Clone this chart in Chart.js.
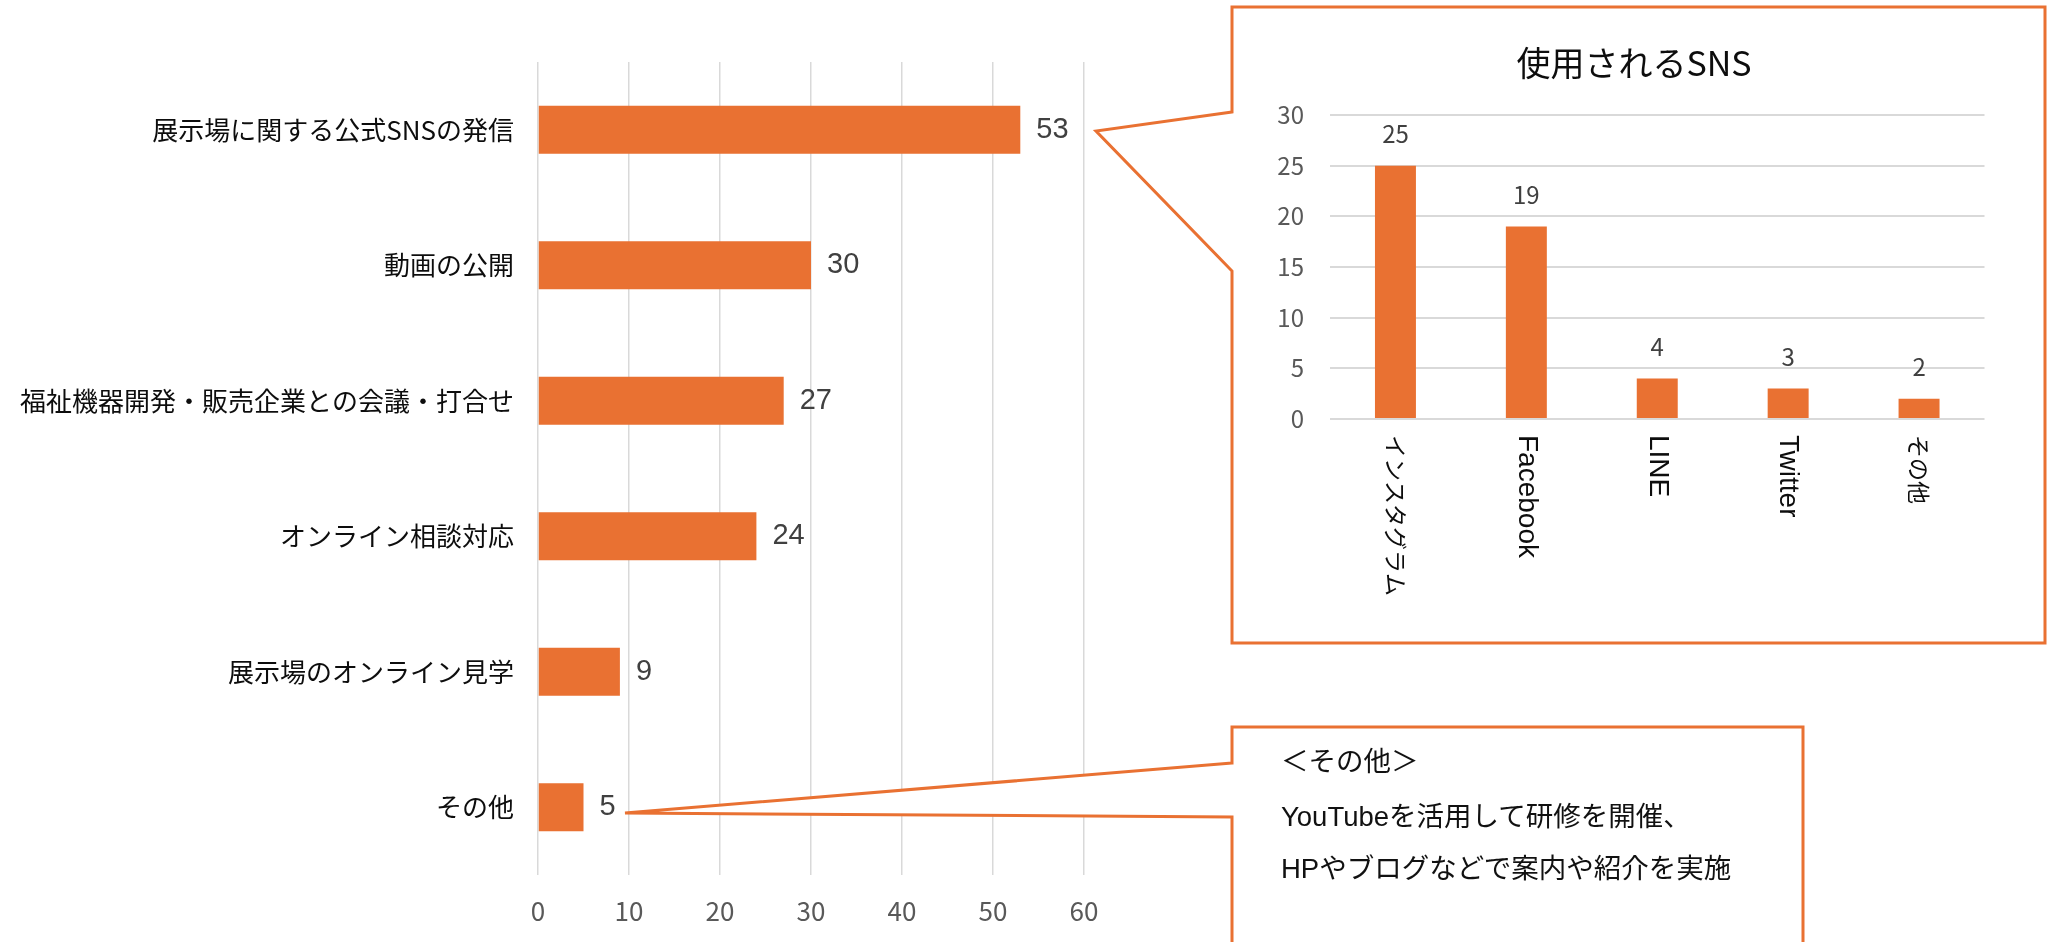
<!DOCTYPE html>
<html lang="ja">
<head>
<meta charset="utf-8">
<script src="https://cdn.jsdelivr.net/npm/chart.js@4.4.1/dist/chart.umd.min.js"></script>
<style>
  html, body { margin: 0; padding: 0; background: #fff; }
  body { width: 2049px; height: 942px; position: relative; overflow: hidden; font-family: "Noto Sans CJK JP", sans-serif; }
  #mainChart { position: absolute; left: 0; top: 0; }
  #callouts { position: absolute; left: 0; top: 0; }
  #snsChart { position: absolute; left: 1240px; top: 20px; }
  #snsTitle { position: absolute; left: 1334px; top: 42px; width: 600px; text-align: center; font-size: 34px; line-height: 40px; color: #0d0d0d; }
  .note { position: absolute; left: 1281px; font-size: 27.5px; line-height: 36px; color: #111; white-space: nowrap;
          font-family: "Liberation Sans", "Noto Sans CJK JP", sans-serif; }
</style>
</head>
<body>
<canvas id="mainChart" width="1240" height="942"></canvas>
<svg id="callouts" width="2049" height="942">
  <path d="M1232,112 L1096,131 L1232,271 L1232,643 L2045,643 L2045,7 L1232,7 Z" fill="#fff" stroke="#E97132" stroke-width="3"/>
  <path d="M1232,763 L625,813 L1232,817 L1232,960 L1803,960 L1803,727 L1232,727 Z" fill="#fff" stroke="#E97132" stroke-width="3"/>
</svg>
<canvas id="snsChart" width="790" height="610"></canvas>
<div id="snsTitle"></div>
<div id="notes"></div>
<script>
// 左のグラフ
const mainLabels = ['展示場に関する公式SNSの発信', '動画の公開', '福祉機器開発・販売企業との会議・打合せ',
                    'オンライン相談対応', '展示場のオンライン見学', 'その他'];
const mainValues = [53, 30, 27, 24, 9, 5];
const mainTicks = [0, 10, 20, 30, 40, 50, 60];

// 右上のグラフ
const snsTitle = '使用されるSNS';
const snsLabels = ['インスタグラム', 'Facebook', 'LINE', 'Twitter', 'その他'];
const snsValues = [25, 19, 4, 3, 2];
const snsTicks = [0, 5, 10, 15, 20, 25, 30];

// その他の説明
const noteLines = ['＜その他＞', 'YouTubeを活用して研修を開催、', 'HPやブログなどで案内や紹介を実施'];

const ORANGE = '#E97132';
const GRID = '#d9d9d9';
const JP = '"Noto Sans CJK JP", sans-serif';

// 棒の横（上）に値を書く
const valueLabels = {
  id: 'valueLabels',
  afterDatasetsDraw(chart, args, opts) {
    const ctx = chart.ctx;
    const meta = chart.getDatasetMeta(0);
    const data = chart.data.datasets[0].data;
    ctx.save();
    ctx.fillStyle = opts.color;
    ctx.font = opts.font;
    ctx.textBaseline = 'middle';
    meta.data.forEach(function (bar, i) {
      if (chart.options.indexAxis === 'y') {
        ctx.textAlign = 'left';
        ctx.fillText(data[i], bar.x + opts.offset, bar.y);
      } else {
        ctx.textAlign = 'center';
        ctx.fillText(data[i], bar.x, bar.y - opts.offset);
      }
    });
    ctx.restore();
  }
};

// 横軸ラベルを右回り90度で書く
const rotatedTicks = {
  id: 'rotatedTicks',
  afterDraw(chart) {
    const sx = chart.scales.x;
    const ctx = chart.ctx;
    chart.data.labels.forEach(function (lab, i) {
      const x = sx.getPixelForTick(i);
      const ascii = /^[\x00-\x7f]+$/.test(lab);
      ctx.save();
      ctx.font = ascii ? '28px "Liberation Sans", sans-serif' : '23px ' + JP;
      ctx.fillStyle = '#0d0d0d';
      ctx.textAlign = 'left';
      ctx.textBaseline = 'middle';
      ctx.translate(x, sx.top + 16);
      ctx.rotate(Math.PI / 2);
      ctx.fillText(lab, 0, 0);
      ctx.restore();
    });
  }
};

new Chart(document.getElementById('mainChart'), {
  type: 'bar',
  data: {
    labels: mainLabels,
    datasets: [{
      data: mainValues,
      backgroundColor: ORANGE,
      barPercentage: 0.354,
      categoryPercentage: 1
    }]
  },
  options: {
    indexAxis: 'y',
    responsive: false,
    animation: false,
    layout: { padding: { top: 62, right: 156, left: 0, bottom: 0 } },
    plugins: {
      legend: { display: false },
      tooltip: { enabled: false },
      valueLabels: { color: '#404040', font: '29px "Liberation Sans", sans-serif', offset: 16 }
    },
    scales: {
      x: {
        min: 0,
        max: 60,
        afterBuildTicks: function (s) { s.ticks = mainTicks.map(v => ({ value: v })); },
        ticks: { color: '#595959', font: { size: 26, family: JP }, padding: 21 },
        grid: { color: GRID, lineWidth: 1.5, drawTicks: false },
        border: { display: false },
        afterFit: function (s) { s.height = 67; }
      },
      y: {
        ticks: { color: '#0d0d0d', font: { size: 26, family: JP }, padding: 24 },
        grid: { display: false, drawTicks: false },
        border: { display: false },
        afterFit: function (s) { s.width = 538; }
      }
    }
  },
  plugins: [valueLabels]
});

new Chart(document.getElementById('snsChart'), {
  type: 'bar',
  data: {
    labels: snsLabels,
    datasets: [{
      data: snsValues,
      backgroundColor: ORANGE,
      barPercentage: 0.313,
      categoryPercentage: 1
    }]
  },
  options: {
    responsive: false,
    animation: false,
    layout: { padding: { top: 95, right: 45.5, left: 0, bottom: 0 } },
    plugins: {
      legend: { display: false },
      tooltip: { enabled: false },
      valueLabels: { color: '#404040', font: '24px ' + JP, offset: 32 }
    },
    scales: {
      x: {
        ticks: { display: false },
        grid: { display: false, drawTicks: false },
        border: { display: false },
        afterFit: function (s) { s.height = 211; }
      },
      y: {
        min: 0,
        max: 30,
        afterBuildTicks: function (s) { s.ticks = snsTicks.map(v => ({ value: v })); },
        ticks: { color: '#595959', font: { size: 24, family: JP }, padding: 26 },
        grid: { color: GRID, lineWidth: 2, drawTicks: false },
        border: { display: false },
        afterFit: function (s) { s.width = 90; }
      }
    }
  },
  plugins: [valueLabels, rotatedTicks]
});

document.getElementById('snsTitle').textContent = snsTitle;

const noteTops = [744, 799, 851];
noteLines.forEach(function (t, i) {
  const d = document.createElement('div');
  d.className = 'note';
  d.style.top = noteTops[i] + 'px';
  d.textContent = t;
  document.getElementById('notes').appendChild(d);
});
</script>
</body>
</html>
